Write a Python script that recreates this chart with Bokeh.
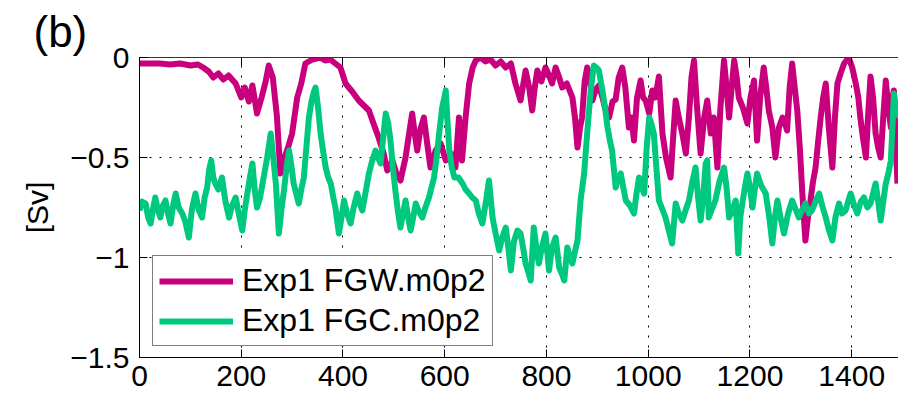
from bokeh.plotting import figure
from bokeh.models import (Range1d, FixedTicker, LinearAxis, Legend, LegendItem,
                          CustomJSTickFormatter)
from bokeh.embed import file_html
from bokeh.resources import INLINE

# Transport time series [Sv] against time
fgw_t = [0, 20, 40, 60, 80, 100, 115, 125, 136, 145, 155, 165, 175, 189, 200, 207,
         215, 222, 231, 240, 248, 254, 262, 270, 277, 285, 292, 300, 310, 318, 326,
         340, 355, 365, 375, 385, 395, 405, 418, 431, 441, 451, 460, 470, 480, 487,
         497, 505, 513, 523, 530, 536, 541, 546, 552, 559, 565, 572, 582, 592, 602,
         612, 621, 628, 634, 641, 648, 655, 661, 670, 680, 690, 700, 710, 720, 730,
         739, 749, 759, 766, 772, 777, 782, 790, 798, 805, 811, 818, 825, 831, 840,
         851, 856, 861, 866, 870, 875, 880, 885, 890, 897, 903, 910, 916, 923, 930,
         936, 942, 949, 955, 962, 967, 972, 978, 985, 990, 995, 1002, 1008, 1014,
         1021, 1028, 1035, 1044, 1049, 1054, 1060, 1067, 1074, 1080, 1085, 1090,
         1096, 1103, 1110, 1116, 1123, 1129, 1136, 1142, 1149, 1154, 1159, 1164,
         1169, 1174, 1178, 1186, 1195, 1201, 1208, 1214, 1220, 1227, 1232, 1237,
         1244, 1250, 1257, 1264, 1269, 1273, 1278, 1283, 1288, 1293, 1298, 1303,
         1306, 1309, 1314, 1319, 1324, 1329, 1334, 1339, 1344, 1349, 1355, 1362,
         1367, 1372, 1378, 1385, 1394, 1401, 1408, 1413, 1417, 1422, 1428, 1432,
         1437, 1442, 1447, 1452, 1457, 1462, 1467, 1472, 1477, 1480, 1483, 1486, 1490]
fgw_sv = [-0.03, -0.03, -0.03, -0.035, -0.03, -0.04, -0.035, -0.05, -0.07, -0.1, -0.08,
          -0.11, -0.09, -0.13, -0.2, -0.15, -0.22, -0.14, -0.28, -0.2, -0.12, -0.04,
          -0.1, -0.29, -0.58, -0.5, -0.45, -0.38, -0.2, -0.13, -0.03, -0.01, 0.0,
          -0.015, -0.01, -0.03, -0.05, -0.13, -0.17, -0.215, -0.24, -0.265, -0.33,
          -0.4, -0.48, -0.565, -0.515, -0.58, -0.615, -0.5, -0.38, -0.28, -0.38,
          -0.465, -0.36, -0.3, -0.42, -0.55, -0.465, -0.43, -0.515, -0.48, -0.55,
          -0.3, -0.515, -0.3, -0.13, -0.05, -0.015, 0.0, -0.02, -0.01, -0.04, -0.02,
          -0.05, -0.03, -0.13, -0.215, -0.065, -0.15, -0.265, -0.15, -0.065, -0.12,
          -0.05, -0.09, -0.13, -0.05, -0.1, -0.15, -0.13, -0.2, -0.3, -0.45, -0.35,
          -0.3, -0.12, -0.05, -0.1, -0.215, -0.16, -0.14, -0.2, -0.26, -0.3, -0.22,
          -0.21, -0.1, -0.05, -0.15, -0.35, -0.3, -0.415, -0.2, -0.115, -0.2, -0.215,
          -0.28, -0.165, -0.2, -0.095, -0.38, -0.5, -0.6, -0.4, -0.215, -0.3, -0.38,
          -0.48, -0.3, -0.1, -0.015, -0.25, -0.48, -0.3, -0.215, -0.38, -0.3, -0.55,
          -0.25, -0.015, -0.15, -0.3, -0.15, -0.015, -0.1, -0.2, -0.25, -0.33, -0.2,
          -0.115, -0.415, -0.2, -0.05, -0.15, -0.265, -0.35, -0.5, -0.35, -0.3, -0.33,
          -0.365, -0.15, -0.03, -0.15, -0.265, -0.45, -0.68, -0.8, -0.915, -0.8,
          -0.715, -0.62, -0.55, -0.42, -0.3, -0.2, -0.13, -0.35, -0.55, -0.3, -0.13,
          -0.08, -0.03, 0.0, -0.05, -0.13, -0.2, -0.3, -0.4, -0.5, -0.3, -0.095, -0.2,
          -0.38, -0.45, -0.5, -0.3, -0.115, -0.25, -0.35, -0.2, -0.165, -0.4, -0.63]

fgc_t = [0, 5, 12, 17, 22, 27, 31, 36, 41, 46, 51, 56, 61, 66, 71, 77, 84, 90, 97, 103,
         110, 116, 123, 128, 133, 137, 141, 145, 149, 155, 162, 169, 176, 182, 189,
         195, 202, 207, 212, 217, 222, 226, 231, 237, 244, 251, 258, 263, 268, 274,
         279, 284, 289, 294, 299, 303, 308, 313, 318, 323, 328, 333, 338, 343, 346,
         351, 356, 361, 366, 371, 376, 381, 385, 392, 397, 402, 408, 415, 421, 428,
         433, 438, 444, 451, 457, 464, 469, 474, 479, 484, 489, 494, 498, 503, 508,
         513, 518, 523, 528, 533, 538, 543, 549, 556, 562, 569, 574, 579, 584, 589,
         595, 602, 605, 609, 614, 619, 627, 635, 641, 648, 654, 661, 667, 674, 681,
         687, 694, 700, 707, 713, 720, 725, 730, 736, 743, 749, 754, 759, 764, 769,
         775, 780, 785, 791, 798, 805, 811, 818, 825, 830, 835, 841, 846, 851, 856,
         861, 867, 874, 880, 887, 893, 898, 903, 910, 915, 920, 925, 929, 936, 941,
         946, 951, 956, 964, 972, 977, 982, 987, 992, 997, 1002, 1006, 1011, 1016,
         1021, 1028, 1034, 1040, 1047, 1054, 1060, 1067, 1074, 1080, 1087, 1093,
         1098, 1103, 1108, 1113, 1116, 1119, 1125, 1132, 1140, 1149, 1154, 1159,
         1166, 1172, 1177, 1181, 1185, 1190, 1195, 1200, 1205, 1210, 1214, 1222,
         1231, 1238, 1244, 1249, 1254, 1260, 1267, 1275, 1283, 1290, 1296, 1303,
         1309, 1316, 1322, 1329, 1336, 1342, 1349, 1355, 1362, 1368, 1375, 1381,
         1388, 1393, 1398, 1405, 1411, 1418, 1424, 1431, 1437, 1442, 1447, 1452,
         1457, 1462, 1467, 1472, 1477, 1480, 1483, 1487, 1490]
fgc_sv = [-0.765, -0.72, -0.73, -0.8, -0.83, -0.75, -0.7, -0.76, -0.8, -0.74, -0.715,
          -0.78, -0.83, -0.74, -0.68, -0.75, -0.78, -0.82, -0.9, -0.76, -0.68, -0.76,
          -0.8, -0.7, -0.65, -0.56, -0.515, -0.6, -0.63, -0.66, -0.6, -0.72, -0.8,
          -0.74, -0.7, -0.78, -0.865, -0.76, -0.68, -0.6, -0.53, -0.65, -0.75, -0.7,
          -0.6, -0.5, -0.38, -0.5, -0.63, -0.88, -0.76, -0.665, -0.55, -0.465, -0.55,
          -0.63, -0.68, -0.73, -0.66, -0.6, -0.45, -0.3, -0.22, -0.17, -0.15, -0.25,
          -0.38, -0.47, -0.55, -0.6, -0.63, -0.7, -0.75, -0.88, -0.8, -0.715, -0.78,
          -0.83, -0.75, -0.68, -0.73, -0.765, -0.68, -0.58, -0.52, -0.465, -0.5,
          -0.53, -0.4, -0.28, -0.33, -0.43, -0.55, -0.665, -0.77, -0.85, -0.78,
          -0.715, -0.8, -0.865, -0.8, -0.73, -0.77, -0.8, -0.75, -0.7, -0.65, -0.6,
          -0.5, -0.38, -0.25, -0.165, -0.3, -0.465, -0.55, -0.6, -0.6, -0.63, -0.66,
          -0.68, -0.7, -0.715, -0.78, -0.83, -0.72, -0.615, -0.8, -0.88, -0.965,
          -0.9, -0.85, -0.95, -1.065, -0.92, -0.865, -0.88, -0.95, -1.03, -1.07,
          -1.115, -0.85, -0.95, -1.03, -0.95, -0.88, -1.065, -0.95, -0.9, -1.05,
          -1.08, -1.115, -0.95, -1.0, -1.03, -0.97, -0.915, -0.715, -0.58, -0.38,
          -0.165, -0.04, -0.05, -0.065, -0.165, -0.25, -0.35, -0.42, -0.465, -0.65,
          -0.6, -0.58, -0.65, -0.715, -0.74, -0.78, -0.68, -0.6, -0.65, -0.68, -0.45,
          -0.3, -0.33, -0.38, -0.55, -0.715, -0.76, -0.8, -0.86, -0.93, -0.73, -0.78,
          -0.815, -0.76, -0.715, -0.62, -0.55, -0.7, -0.815, -0.7, -0.53, -0.515,
          -0.8, -0.76, -0.715, -0.62, -0.55, -0.65, -0.8, -0.76, -0.715, -0.98, -0.8,
          -0.73, -0.65, -0.58, -0.65, -0.75, -0.65, -0.58, -0.64, -0.68, -0.8, -0.93,
          -0.8, -0.715, -0.8, -0.88, -0.78, -0.715, -0.76, -0.8, -0.76, -0.73, -0.78,
          -0.765, -0.72, -0.68, -0.74, -0.8, -0.86, -0.915, -0.8, -0.73, -0.78,
          -0.765, -0.72, -0.68, -0.74, -0.78, -0.72, -0.7, -0.75, -0.73, -0.68, -0.63,
          -0.72, -0.815, -0.72, -0.63, -0.58, -0.515, -0.35, -0.18, -0.25, -0.3]

series_names = ["Exp1 FGW.m0p2", "Exp1 FGC.m0p2"]
series_colors = ["#C8007D", "#00C87F"]
x_ticks = [0, 200, 400, 600, 800, 1000, 1200, 1400]
y_ticks = [-1.5, -1.0, -0.5, 0.0]

FONT = "Liberation Sans"

p = figure(width=898, height=400, output_backend="svg", toolbar_location=None,
           x_range=Range1d(0, 1492), y_range=Range1d(-1.5, 0),
           min_border_left=139, min_border_right=0, min_border_top=57,
           min_border_bottom=43, title="(b)")
p.outline_line_color = None
p.background_fill_color = "white"
p.border_fill_color = "white"

# panel tag drawn as the figure title, shifted to the left edge
p.title.text_font = FONT
p.title.text_font_size = "44px"
p.title.text_font_style = "normal"
p.title.text_color = "black"
p.title.align = "left"
p.title.offset = -106
p.title.standoff = 4

minus_fmt = CustomJSTickFormatter(
    code="return tick < 0 ? '\u2212' + String(Math.abs(tick)) : String(tick);")

for ax, ticks in ((p.xaxis[0], x_ticks), (p.yaxis[0], y_ticks)):
    ax.ticker = FixedTicker(ticks=ticks)
    ax.formatter = minus_fmt
    ax.major_tick_in = 8
    ax.major_tick_out = 0
    ax.minor_tick_line_color = None
    ax.axis_line_color = "black"
    ax.major_tick_line_color = "black"
    ax.major_label_text_font = FONT
    ax.major_label_text_font_size = "30px"
    ax.major_label_text_color = "black"
p.xaxis.major_label_standoff = 8
p.yaxis.major_label_standoff = 10

# unit label on the y axis
p.yaxis.axis_label = "[Sv]"
p.yaxis.axis_label_text_font = FONT
p.yaxis.axis_label_text_font_size = "30px"
p.yaxis.axis_label_text_font_style = "normal"
p.yaxis.axis_label_text_color = "black"
p.yaxis.axis_label_standoff = 13

# closed box on top with inward ticks, no labels
top_axis = LinearAxis(ticker=FixedTicker(ticks=x_ticks), major_tick_in=8,
                      major_tick_out=0, minor_tick_line_color=None,
                      major_label_text_color=None, major_label_text_font_size="1px",
                      major_label_standoff=0, axis_line_color="#333333")
p.add_layout(top_axis, "above")

for g in (p.xgrid[0], p.ygrid[0]):
    g.grid_line_color = "black"
    g.grid_line_dash = "2 8"
    g.grid_line_width = 1
    g.grid_line_alpha = 1.0
p.xgrid.ticker = FixedTicker(ticks=x_ticks)
p.ygrid.ticker = FixedTicker(ticks=y_ticks)

r_fgw = p.line(fgw_t, fgw_sv, line_color=series_colors[0], line_width=6,
               line_join="round")
r_fgc = p.line(fgc_t, fgc_sv, line_color=series_colors[1], line_width=6,
               line_join="round")

legend = Legend(items=[LegendItem(label=series_names[0], renderers=[r_fgw]),
                       LegendItem(label=series_names[1], renderers=[r_fgc])],
                location=(13, 11), orientation="vertical",
                label_text_font=FONT, label_text_font_size="32px",
                label_text_color="black",
                glyph_width=74, glyph_height=34, label_height=34,
                label_standoff=9, padding=6, spacing=3, margin=0,
                border_line_color="black", border_line_width=1,
                background_fill_color="white", background_fill_alpha=1.0)
p.add_layout(legend)

open("out.html", "w").write(file_html(p, INLINE))
